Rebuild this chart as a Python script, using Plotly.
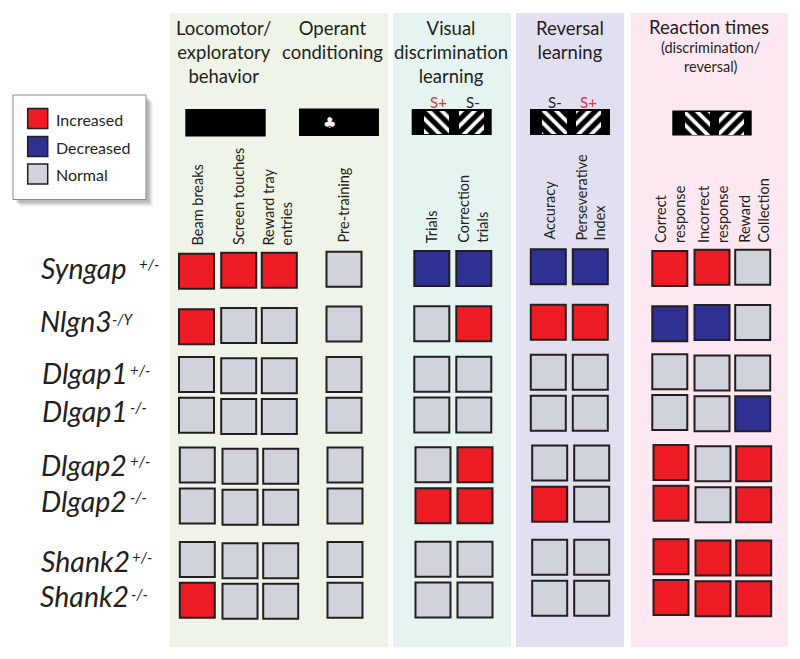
import plotly.graph_objects as go

# ---------- data ----------
genotypes = ["Syngap", "Nlgn3", "Dlgap1", "Dlgap1", "Dlgap2", "Dlgap2", "Shank2", "Shank2"]
zygosity = ["+/-", "-/Y", "+/-", "-/-", "+/-", "-/-", "+/-", "-/-"]
measures = ["Beam breaks", "Screen touches", "Reward tray entries", "Pre-training",
            "Trials", "Correction trials", "Accuracy", "Perseverative Index",
            "Correct response", "Incorrect response", "Reward Collection"]
# I increased, D decreased, N normal
status_grid = [
    "IIIN" "DD" "DD" "IIN",
    "INNN" "NI" "II" "DDN",
    "NNNN" "NN" "NN" "NNN",
    "NNNN" "NN" "NN" "NND",
    "NNNN" "NI" "NN" "INI",
    "NNNN" "II" "IN" "INI",
    "NNNN" "NN" "NN" "III",
    "INNN" "NN" "NN" "III",
]
status_names = {"I": "Increased", "D": "Decreased", "N": "Normal"}

# ---------- layout scales (pixel space of the schematic) ----------
RED, BLUE, GREY = "#ed1c24", "#2e3192", "#d1d3dc"
EDGE = "#231f20"
FONT = "Lato"
col_x_upper = [196.5, 238.7, 279.3, 344, 431.8, 473.8, 548.3, 590.3, 669.8, 712, 752.7]
col_x_lower = [197.3, 240, 280.7, 345, 433, 475, 549.7, 591.7, 671, 713, 753.7]
y_a = [271.3, 326.7, 374.5, 415.3, 465, 506, 559.5, 600.3]
y_b = [270.2, 325.5, 375.7, 416.5, 466.3, 507.3, 560.8, 601.3]
y_c = [269.2, 324, 374.5, 415.3, 465, 506, 559.5, 600.3]
y_d = [268.5, 323.8, 374.3, 415, 464.7, 505.8, 559.3, 600]
y_e = [266.7, 322.2, 372.3, 413.3, 463, 504.3, 557.3, 598.3]
y_f = [268.5, 323.8, 371.7, 412.5, 462.5, 503.3, 556.7, 597.5]
y_g = [267.3, 322.5, 373, 413.7, 463.7, 504.7, 558, 598.7]
col_rows = [y_a, y_b, y_b, y_c, y_d, y_d, y_e, y_e, y_f, y_g, y_g]

panels = [(170, 388, "#eef4e7"), (393, 511, "#e6f4f1"), (516, 624, "#e2e0f0"), (631, 788, "#fde8f1")]
stim_bars = [(185.3, 265.7, 109, 136.5), (299, 379, 108.5, 136), (411.7, 491.7, 109, 135),
             (530, 610, 109, 135), (672.3, 751.7, 110.5, 135.5)]
hatches = [(436.5, "\\"), (471, "/"), (554.5, "\\"), (588.5, "/"), (697, "\\"), (731, "/")]

fig = go.Figure()
shapes = []
annots = []


def rect(x0, x1, y0, y1, fill, line=None, lw=0):
    shapes.append(dict(type="rect", x0=x0, x1=x1, y0=y0, y1=y1, fillcolor=fill, layer="below",
                       line=dict(color=line or fill, width=lw)))


def text(x, y, s, size=14, color="#231f20", xa="center", ya="middle", angle=0, align="center", family=FONT,
         style="normal"):
    annots.append(dict(x=x, y=y, text=s, showarrow=False, xanchor=xa, yanchor=ya, textangle=angle, align=align,
                       font=dict(size=size, color=color, family=family, style=style), xref="x", yref="y",
                       borderpad=0, borderwidth=0))


for x0, x1, c in panels:
    rect(x0, x1, 13, 647, c)

# legend box with drop shadow
for i, alpha in zip((7, 6, 5, 4, 3), (0.06, 0.08, 0.10, 0.12, 0.14)):
    rect(13 + i, 146 + i, 95 + i, 199.5 + i, f"rgba(90,90,90,{alpha})")
rect(13, 146, 95, 199.5, "#ffffff", "#8a8a8a", 1)

for x0, x1, y0, y1 in stim_bars:
    rect(x0, x1, y0, y1, "#000000")

# patterned stimuli
for cx, sh in hatches:
    base = 111 if cx < 690 else 112
    fig.add_trace(go.Bar(x=[cx], y=[23], base=[base], width=[25], showlegend=False, hoverinfo="skip",
                         marker=dict(color="#000000", line_width=0,
                                     pattern=dict(shape=sh, fgcolor="#ffffff", bgcolor="#000000",
                                                  size=9, solidity=0.42, fillmode="replace"))))

# status cells
for key, color in (("I", RED), ("D", BLUE), ("N", GREY)):
    xs, ys, names = [], [], []
    for r, row in enumerate(status_grid):
        for c, v in enumerate(row):
            if v == key:
                xs.append((col_x_upper if r < 4 else col_x_lower)[c])
                ys.append(col_rows[c][r])
                names.append(f"{genotypes[r]} {zygosity[r]} / {measures[c]}")
    fig.add_trace(go.Scatter(x=xs, y=ys, mode="markers", name=status_names[key], text=names, showlegend=False,
                             marker=dict(symbol="square", size=35, color=color, line=dict(color=EDGE, width=2))))

# legend swatches
fig.add_trace(go.Scatter(x=[37.7, 37.7, 37.7], y=[118.5, 146.5, 174], mode="markers", showlegend=False,
                         marker=dict(symbol="square", size=20, color=[RED, BLUE, GREY],
                                     line=dict(color=EDGE, width=1.5))))
text(56, 119.5, status_names["I"], 16, xa="left")
text(56, 147.5, status_names["D"], 16, xa="left")
text(56, 174.5, status_names["N"], 16, xa="left")

# headers
text(223, 51.5, "Locomotor/<br>exploratory<br>behavior", 18.5)
text(332, 39.5, "Operant<br>conditioning", 18.5)
text(451, 51.5, "Visual<br>discrimination<br>learning", 18.5)
text(570, 39.5, "Reversal<br>learning", 18.5)
text(709, 27, "Reaction times", 18.5)
text(711, 57, "(discrimination/<br>reversal)", 14.5)
text(438, 102, "S+", 15, "#d9363a")
text(473, 102, "S-", 15)
text(555, 102, "S-", 15)
text(588, 102, "S+", 15, "#d9363a")
text(329, 123, "\u2663", 15, "#ffffff", family="DejaVu Sans")

# rotated measure labels
rot = [(197, 246, "Beam breaks"), (238.5, 245, "Screen touches"), (277, 246, "Reward tray<br>entries"),
       (343, 243, "Pre-training"), (431.7, 243, "Trials"), (472.7, 243, "Correction<br>trials"),
       (549, 240, "Accuracy"), (590.5, 241, "Perseverative<br>Index"), (670, 243, "Correct<br>response"),
       (713, 243, "Incorrect<br>response"), (753.7, 243, "Reward<br>Collection")]
for x, y, s in rot:
    text(x, y, s, 14.5, xa="center", ya="bottom", angle=-90, align="left")

# genotype labels with their zygosity superscripts
geno_pos = [(41, 268), (40, 321), (42, 373), (42, 411), (41, 465), (41, 501), (41, 561), (40, 596)]
sup_pos = [(139, 264), (112, 319), (130, 370), (130, 407), (130, 461), (130, 497), (132, 557), (131, 594)]
for (x, y), (sx, sy), g, z in zip(geno_pos, sup_pos, genotypes, zygosity):
    text(x, y, g, 28.5, xa="left", style="italic")
    text(sx, sy, z, 15, xa="left", style="italic")

fig.update_layout(
    width=800, height=659, autosize=False, margin=dict(l=0, r=0, t=0, b=0),
    paper_bgcolor="#ffffff", plot_bgcolor="#ffffff", barmode="overlay", bargap=0,
    shapes=shapes, annotations=annots, showlegend=False, hovermode="closest",
    xaxis=dict(range=[0, 800], visible=False, fixedrange=True),
    yaxis=dict(range=[659, 0], visible=False, fixedrange=True),
)
fig.write_html("out.html", config={"displayModeBar": False},
               post_script="document.body.style.margin='0';")
